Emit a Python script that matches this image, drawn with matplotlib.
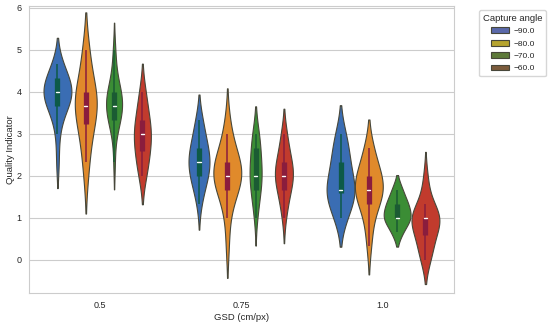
import numpy as np
import matplotlib
matplotlib.use("Agg")
import matplotlib.pyplot as plt
from matplotlib.patches import Patch
import seaborn as sns

# GSD categories and capture angles
gsd_labels = ["0.5", "0.75", "1.0"]
angle_labels = ["\u221290.0", "\u221280.0", "\u221270.0", "\u221260.0"]

# quality indicator samples (mean of three ratings), one list per angle, per GSD
gsd_050 = [
    [2.33, 3.0, 3.33, 3.67, 3.67, 3.67, 3.67, 4.0, 4.0, 4.0, 4.0, 4.0, 4.0, 4.0, 4.33, 4.33, 4.33, 4.33, 4.67, 4.67],
    [2.0, 2.33, 2.67, 3.0, 3.0, 3.33, 3.33, 3.67, 3.67, 3.67, 3.67, 3.67, 4.0, 4.0, 4.0, 4.0, 4.33, 4.67, 5.0, 5.0],
    [2.33, 3.0, 3.33, 3.33, 3.33, 3.33, 3.67, 3.67, 3.67, 3.67, 3.67, 3.67, 4.0, 4.0, 4.0, 4.0, 4.0, 4.33, 4.67, 5.0],
    [2.0, 2.0, 2.33, 2.33, 2.33, 2.67, 2.67, 2.67, 3.0, 3.0, 3.0, 3.0, 3.0, 3.33, 3.33, 3.33, 3.67, 3.67, 4.0, 4.0],
]
gsd_075 = [
    [1.33, 1.67, 1.67, 2.0, 2.0, 2.0, 2.0, 2.33, 2.33, 2.33, 2.33, 2.33, 2.67, 2.67, 2.67, 2.67, 3.0, 3.0, 3.33, 3.33],
    [0.33, 1.0, 1.33, 1.67, 1.67, 1.67, 2.0, 2.0, 2.0, 2.0, 2.0, 2.0, 2.33, 2.33, 2.33, 2.33, 2.67, 2.67, 3.0, 3.33],
    [1.0, 1.33, 1.33, 1.67, 1.67, 1.67, 2.0, 2.0, 2.0, 2.0, 2.0, 2.33, 2.33, 2.33, 2.67, 2.67, 2.67, 3.0, 3.0, 3.0],
    [1.0, 1.33, 1.33, 1.67, 1.67, 1.67, 2.0, 2.0, 2.0, 2.0, 2.0, 2.0, 2.33, 2.33, 2.33, 2.33, 2.67, 2.67, 3.0, 3.0],
]
gsd_100 = [
    [1.0, 1.0, 1.33, 1.33, 1.33, 1.67, 1.67, 1.67, 1.67, 1.67, 1.67, 2.0, 2.0, 2.33, 2.33, 2.33, 2.67, 2.67, 3.0, 3.0],
    [0.33, 0.67, 1.0, 1.33, 1.33, 1.33, 1.67, 1.67, 1.67, 1.67, 1.67, 1.67, 2.0, 2.0, 2.0, 2.0, 2.33, 2.33, 2.67, 2.67],
    [0.67, 0.67, 0.67, 1.0, 1.0, 1.0, 1.0, 1.0, 1.0, 1.0, 1.0, 1.33, 1.33, 1.33, 1.33, 1.33, 1.33, 1.67, 1.67, 1.67],
    [0.0, 0.0, 0.33, 0.33, 0.33, 0.67, 0.67, 0.67, 1.0, 1.0, 1.0, 1.0, 1.0, 1.0, 1.0, 1.0, 1.33, 1.33, 1.67, 2.0],
]
samples = [gsd_050, gsd_075, gsd_100]

# styling
fill_colors = ["#3a6db3", "#e08a2b", "#3b8d35", "#c13b2d"]
box_colors = ["#0d5a48", "#8a1d3d", "#1b5b33", "#8a1d3d"]
legend_colors = ["#5b69aa", "#b6a42f", "#5e7a3a", "#7b5b3c"]
edge_color = "#47473a"
# max violin width (fraction of category slot), per GSD / angle
widths = [
    [0.197, 0.155, 0.113, 0.120],
    [0.148, 0.197, 0.085, 0.127],
    [0.197, 0.197, 0.190, 0.197],
]
bw_adjust = 1.2
cut = 1.7

sns.set_style("whitegrid")
plt.rcParams["font.family"] = ["Liberation Sans", "DejaVu Sans"]

fig = plt.figure(figsize=(5.5, 3.25), dpi=100)
ax = fig.add_axes([0.053, 0.098, 0.772, 0.884])

offsets = [-0.3, -0.1, 0.1, 0.3]
for g, group in enumerate(samples):
    for h, vals in enumerate(group):
        vals = np.asarray(vals)
        x = g + offsets[h]
        bw = vals.std(ddof=1) * len(vals) ** -0.2 * bw_adjust
        grid = np.linspace(vals.min() - cut * bw, vals.max() + cut * bw, 200)
        dens = np.exp(-0.5 * ((grid[:, None] - vals[None, :]) / bw) ** 2).sum(axis=1)
        half = dens / dens.max() * widths[g][h] / 2
        ax.fill_betweenx(grid, x - half, x + half, facecolor=fill_colors[h],
                         edgecolor=edge_color, linewidth=0.8, zorder=2)

        q1, med, q3 = np.percentile(vals, [25, 50, 75])
        iqr = q3 - q1
        lo = vals[vals >= q1 - 1.5 * iqr].min()
        hi = vals[vals <= q3 + 1.5 * iqr].max()
        ax.plot([x, x], [lo, hi], color=box_colors[h], lw=1.1, solid_capstyle="butt", zorder=3)
        ax.plot([x, x], [q1, q3], color=box_colors[h], lw=3.8, solid_capstyle="butt", zorder=3)
        ax.plot([x - 0.011, x + 0.011], [med, med], color="white", lw=1.0, zorder=4)

ax.set_xlim(-0.5, 2.5)
ax.set_ylim(-0.79, 6.05)
ax.set_xticks(range(len(gsd_labels)))
ax.set_xticklabels(gsd_labels)
ax.set_yticks(range(0, 7))
ax.tick_params(labelsize=6.5, pad=2)
ax.grid(axis="x", visible=False)
ax.set_xlabel("GSD (cm/px)", fontsize=6.8, labelpad=2)
ax.set_ylabel("Quality Indicator", fontsize=6.8, labelpad=1)

handles = [Patch(facecolor=c, edgecolor=edge_color, linewidth=0.8) for c in legend_colors]
ax.legend(handles, angle_labels, title="Capture angle", loc="upper left",
          bbox_to_anchor=(1.05, 1.0), fontsize=6.0, title_fontsize=6.8,
          handlelength=2.2, handleheight=0.7, labelspacing=0.55, borderpad=0.45,
          handletextpad=0.5)

fig.savefig("out.png", dpi=100)
